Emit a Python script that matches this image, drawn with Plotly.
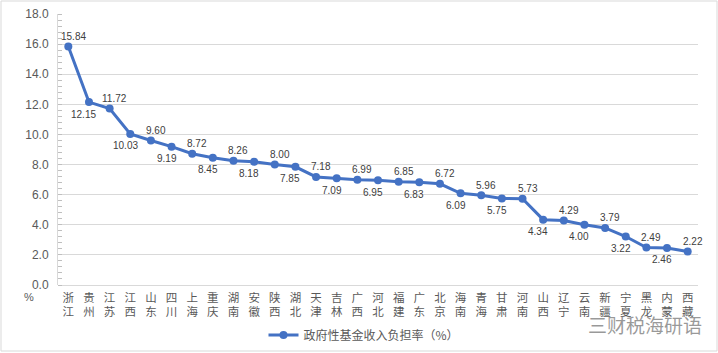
import plotly.graph_objects as go

provinces = ["浙江", "贵州", "江苏", "江西", "山东", "四川", "上海", "重庆", "湖南", "安徽",
             "陕西", "湖北", "天津", "吉林", "广西", "河北", "福建", "广东", "北京", "海南",
             "青海", "甘肃", "河南", "山西", "辽宁", "云南", "新疆", "宁夏", "黑龙", "内蒙", "西藏"]
burden = [15.84, 12.15, 11.72, 10.03, 9.60, 9.19, 8.72, 8.45, 8.26, 8.18,
          8.00, 7.85, 7.18, 7.09, 6.99, 6.95, 6.85, 6.83, 6.72, 6.09,
          5.96, 5.75, 5.73, 4.34, 4.29, 4.00, 3.79, 3.22, 2.49, 2.46, 2.22]
series_name = "政府性基金收入负担率（%）"
y_ticks = [0, 2, 4, 6, 8, 10, 12, 14, 16, 18]

tick_text = [p[0] + "<br>" + p[1] for p in provinces]

fig = go.Figure()
fig.add_trace(go.Scatter(
    x=list(range(len(provinces))), y=burden, mode="lines+markers",
    name=series_name,
    line=dict(color="#4472C4", width=3),
    marker=dict(color="#4472C4", size=8),
    hoverinfo="skip",
))

for i, v in enumerate(burden):
    above = (i % 2 == 0)
    fig.add_annotation(
        x=i, y=v, text=f"{v:.2f}", showarrow=False,
        xshift=5 if above else -5, yshift=10 if above else -12,
        font=dict(family="Liberation Sans, Arial", size=10, color="#404040"),
    )

fig.add_annotation(x=(29 - 58) / 640, y=(285 - 297) / 271, xref="paper", yref="paper",
                   xanchor="center", yanchor="middle",
                   text="%", showarrow=False,
                   font=dict(family="Liberation Sans, Arial", size=11, color="#595959"))

fig.add_annotation(x=(645 - 58) / 640, y=(285 - 324) / 271, xref="paper", yref="paper",
                   xanchor="center", yanchor="middle",
                   text="三财税海研语", showarrow=False,
                   font=dict(family="Noto Sans CJK SC", size=19, color="rgba(120,120,120,0.75)"))

fig.add_shape(type="rect", xref="paper", yref="paper",
              x0=(1 - 58) / 640, x1=(717 - 58) / 640, y0=(285 - 351) / 271, y1=(285 - 1) / 271,
              line=dict(color="#d9d9d9", width=1), layer="below")

fig.update_layout(
    width=718, height=353,
    margin=dict(l=58, r=20, t=14, b=68, autoexpand=False),
    paper_bgcolor="white", plot_bgcolor="white",
    font=dict(family="Noto Sans CJK SC", color="#595959"),
    showlegend=True,
    legend=dict(orientation="h", x=(364 - 58) / 640, xanchor="center",
                y=(285 - 335) / 271, yanchor="middle",
                font=dict(family="Noto Sans CJK SC", size=12, color="#595959"),
                bgcolor="rgba(0,0,0,0)"),
    xaxis=dict(range=[-0.5, len(provinces) - 0.5], tickmode="array",
               tickvals=list(range(len(provinces))), ticktext=tick_text,
               tickfont=dict(family="Noto Sans CJK SC", size=11.5, color="#595959"),
               ticklabelstandoff=4, automargin=False,
               showgrid=False, zeroline=False, showline=False, ticks="", fixedrange=True),
    yaxis=dict(range=[0, 18], tickmode="array", tickvals=y_ticks, tickformat=".1f",
               tickfont=dict(family="Liberation Sans, Arial", size=12, color="#595959"),
               showgrid=True, gridcolor="#d9d9d9", gridwidth=1,
               zeroline=True, zerolinecolor="#d9d9d9", zerolinewidth=1,
               showline=True, linecolor="#d9d9d9", linewidth=1,
               ticks="", ticklabelstandoff=6, automargin=False,
               minor=dict(dtick=0.4, ticks="inside", ticklen=4, tickcolor="#bfbfbf", showgrid=False),
               fixedrange=True),
)

fig.write_html("out.html")
